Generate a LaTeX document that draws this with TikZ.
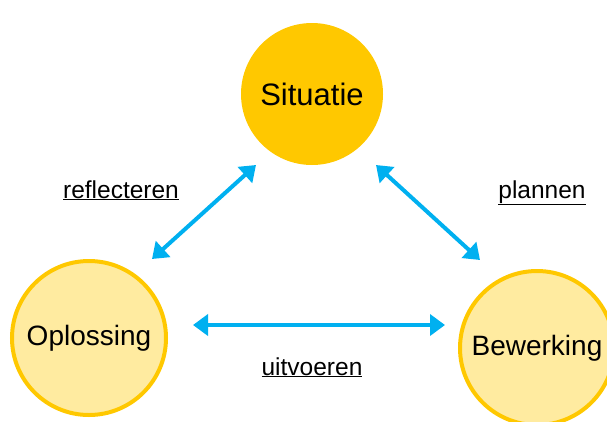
\documentclass[tikz,border=0pt]{standalone}
\usepackage{fontspec}
\setmainfont{Liberation Sans}
\usepackage{tikz}
\usetikzlibrary{arrows.meta}
\definecolor{gold}{RGB}{255,200,0}
\definecolor{lightgold}{RGB}{255,235,160}
\definecolor{arrowblue}{RGB}{0,176,240}
\tikzstyle{phase} = [circle, fill=gold, minimum size=142pt, inner sep=0pt,
                 font=\fontsize{31}{36}\selectfont]
\tikzstyle{stage} = [circle, draw=gold, line width=4pt, fill=lightgold,
                 minimum size=154pt, inner sep=0pt, font=\fontsize{28}{32}\selectfont]
\tikzstyle{link} = [draw=arrowblue, line width=4pt,
                 {Triangle[length=15pt,width=21pt]}-{Triangle[length=15pt,width=21pt]}]
\tikzstyle{tag} = [anchor=base, inner sep=0pt, font=\fontsize{24.5}{28}\selectfont]

\begin{document}
\begin{tikzpicture}[x=1pt,y=-1pt]

\useasboundingbox (0,0) rectangle (607,421);

\node [phase] at (312,94) (situatie) {Situatie};
\node [stage] at (89,338) (oplossing) {Oplossing};
\node [stage] at (537,348) (bewerking) {Bewerking};

    	%arrow ends
\coordinate (ro) at (152,259);
\coordinate (rs) at (256,165);
\coordinate (ps) at (376,165);
\coordinate (pb) at (480,260);
\coordinate (uo) at (193,325);
\coordinate (ub) at (445,325);

\path [link] (ro) -- (rs);
\path [link] (ps) -- (pb);
\path [link] (uo) -- (ub);

\node [tag] at (121,198) (reflecteren) {\underline{reflecteren}};
\node [tag] at (542,198) (plannen) {\underline{plannen}};
\node [tag] at (312,375) (uitvoeren) {\underline{uitvoeren}};

\end{tikzpicture}
\end{document}
